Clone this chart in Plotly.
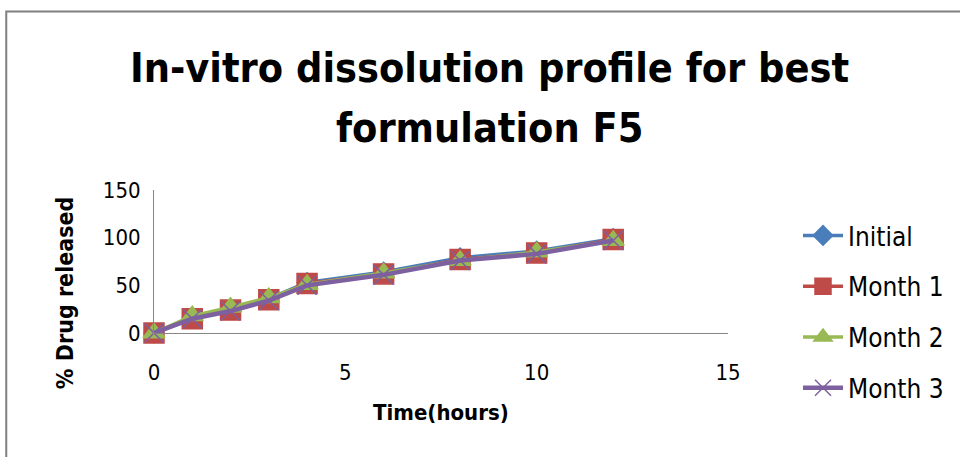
import plotly.graph_objects as go

time_h = [0, 1, 2, 3, 4, 6, 8, 10, 12]
initial = [0, 16, 25, 36, 53, 64, 79, 86, 99]
month1 = [0, 15, 24, 35, 52, 62, 77, 84, 98]
month2 = [0, 18, 27, 37, 51, 63, 76, 85, 97]
month3 = [0, 15, 23, 34, 50, 61, 76, 83, 97]
series_names = ["Initial", "Month 1", "Month 2", "Month 3"]
x_ticks = [0, 5, 10, 15]
y_ticks = [0, 50, 100, 150]

FONT = "Liberation Sans Narrow, DejaVu Sans Condensed, Open Sans, sans-serif"

styles = [
    dict(color="#4a7ebb", symbol="diamond", size=15, lw=3.5),
    dict(color="#be4b48", symbol="square", size=20, lw=3.5),
    dict(color="#98b954", symbol="triangle-up", size=19, lw=3.5),
    dict(color="#7d60a0", symbol="x-thin", size=19, lw=4.5),
]

fig = go.Figure()
for name, vals, st in zip(series_names, [initial, month1, month2, month3], styles):
    fig.add_trace(go.Scatter(
        x=time_h, y=vals, name=name, mode="lines+markers",
        line=dict(color=st["color"], width=st["lw"]),
        marker=dict(symbol=st["symbol"], size=st["size"], color=st["color"],
                    line=dict(color=st["color"], width=1.5)),
        cliponaxis=False, legendgroup=name,
    ))

L, R, T, B = 154, 729, 190, 333
W, H = 960, 457
pw, ph = R - L, B - T

def px(x):
    return (x - L) / pw

def py(y):
    return (B - y) / ph

fig.update_layout(
    width=W, height=H, autosize=False,
    margin=dict(l=L, r=W - R, t=T, b=H - B),
    paper_bgcolor="white", plot_bgcolor="white",
    font=dict(family=FONT, color="#000000", size=21),
    showlegend=True,
    legend=dict(x=px(798), y=py(212), xanchor="left", yanchor="top",
                font=dict(size=26, family=FONT), tracegroupgap=14,
                bgcolor="rgba(0,0,0,0)", itemwidth=40, maxheight=400),
    xaxis=dict(range=[0, 15], tickvals=x_ticks, showgrid=False, zeroline=False,
               showline=True, linecolor="#868686", linewidth=1, ticks="",
               tickfont=dict(size=22), fixedrange=True, ticklabelstandoff=20),
    yaxis=dict(range=[0, 150], tickvals=y_ticks, showgrid=False, zeroline=False,
               showline=True, linecolor="#868686", linewidth=1, ticks="",
               tickfont=dict(size=22), fixedrange=True, ticklabelstandoff=8),
    annotations=[
        dict(text="<b>In-vitro dissolution profile for best</b>", x=px(490), y=py(68),
             xref="paper", yref="paper", showarrow=False, font=dict(size=41),
             xanchor="center", yanchor="middle"),
        dict(text="<b>formulation F5</b>", x=px(490), y=py(128),
             xref="paper", yref="paper", showarrow=False, font=dict(size=41),
             xanchor="center", yanchor="middle"),
        dict(text="<b>Time(hours)</b>", x=px(442), y=py(412),
             xref="paper", yref="paper", showarrow=False, font=dict(size=22),
             xanchor="center", yanchor="middle"),
        dict(text="<b>% Drug released</b>", x=px(65), y=py(293), textangle=-90,
             xref="paper", yref="paper", showarrow=False, font=dict(size=23),
             xanchor="center", yanchor="middle"),
    ],
    shapes=[
        dict(type="rect", xref="paper", yref="paper",
             x0=px(6), x1=px(975), y0=py(470), y1=py(11.5),
             line=dict(color="#7f7f7f", width=2), fillcolor="rgba(0,0,0,0)", layer="below"),
    ],
)

fig.write_html("out.html")
